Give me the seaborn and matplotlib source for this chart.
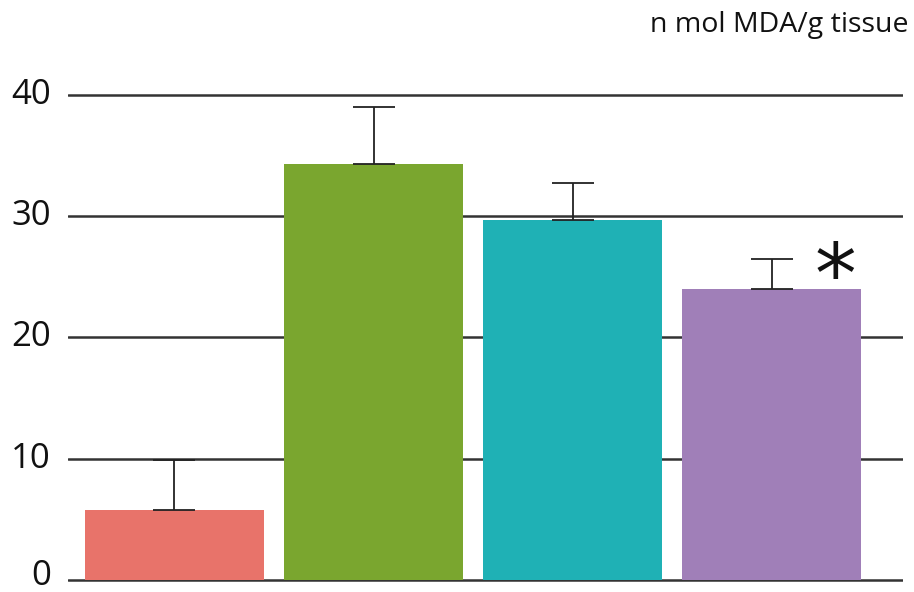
import matplotlib
matplotlib.use("Agg")
import matplotlib.pyplot as plt
import matplotlib.transforms as mtransforms
import seaborn as sns
import pandas as pd
import numpy as np

groups = ["Group 1", "Group 2", "Group 3", "Group 4"]
means = [5.8, 34.3, 29.7, 24.0]
upper_err = [4.1, 4.7, 3.0, 2.5]
colors = ["#E8736A", "#7AA62F", "#1FB1B5", "#A07FB8"]
y_ticks = [0, 10, 20, 30, 40]
unit_label = "n mol MDA/g tissue"
sig_marks = ["", "", "", "*"]

sns.set_theme(style="white")
plt.rcParams["font.family"] = ["Open Sans", "DejaVu Sans"]

df = pd.DataFrame({"group": groups, "value": means})

fig = plt.figure(figsize=(9.14, 5.92), dpi=100)
ax = fig.add_axes([68 / 914, 6 / 592, (903 - 68) / 914, (586 - 46.5) / 592])

for yv in y_ticks:
    ax.axhline(yv, color="#333333", lw=1.8, zorder=0)

sns.barplot(data=df, x="group", y="value", hue="group", palette=colors,
            order=groups, hue_order=groups, legend=False, errorbar=None,
            width=0.9, saturation=1, linewidth=0, edgecolor="none",
            ax=ax, zorder=2)

xs = np.arange(len(groups))
ax.errorbar(xs, means, yerr=[np.zeros(len(means)), upper_err], fmt="none",
            ecolor="#222222", elinewidth=1.3, capsize=15, capthick=1.3, zorder=3)

for x, m, e, s in zip(xs, means, upper_err, sig_marks):
    if s:
        ax.text(x + 0.32, m + 0.75, s, fontsize=60, ha="center", va="center",
                color="#111111", family=["DejaVu Sans"])

ax.set_xlim(-0.535, 3.66)
ax.set_ylim(-0.5, 44)
ax.set_yticks([])
ax.set_xticks([])
ax.set_xlabel("")
ax.set_ylabel("")
for sp in ax.spines.values():
    sp.set_visible(False)

# y tick labels as real text, right-aligned left of the grid
label_tr = mtransforms.blended_transform_factory(ax.transAxes, ax.transData)
for t in y_ticks:
    dy = 4 if t == 0 else 0
    tr = label_tr + mtransforms.ScaledTranslation(-17 / 100, dy / 100, fig.dpi_scale_trans)
    ax.text(0, t, str(t), transform=tr, ha="right", va="center",
            fontsize=25, color="#111111", clip_on=False)

fig.text(908 / 914, 1 - 25 / 592, unit_label, ha="right", va="center",
         fontsize=20.5, color="#111111")

fig.savefig("out.png", dpi=100)
